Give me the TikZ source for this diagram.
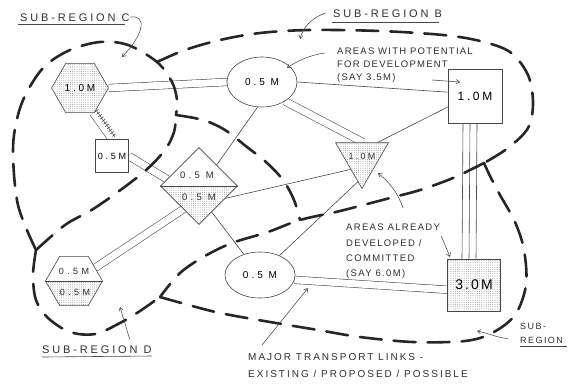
\documentclass[tikz,border=0pt]{standalone}
\usepackage{fontspec}
\setmainfont{Liberation Sans}
\usetikzlibrary{shapes.geometric,patterns.meta,calc,decorations.pathreplacing,arrows.meta,backgrounds}
\newcommand\hf[3]{\fontsize{#1}{#2}\selectfont\addfontfeature{LetterSpace=#3}}
\begin{document}
\begin{tikzpicture}[x=1pt,y=-1pt,
  ink/.style={draw=black!72, line width=0.6pt},
  lnk/.style={ink},
  dbl/.style={draw=black!72, line width=0.55pt, double=white, double distance=7pt},
  dotfill/.style={preaction={fill=white}, pattern={Dots[distance=2.2pt,radius=0.38pt]}, pattern color=black!60},
  halfdots/.style={fill=white, path picture={\fill[pattern={Dots[distance=2.2pt,radius=0.38pt]}, pattern color=black!60] (path picture bounding box.west) rectangle (path picture bounding box.south east);}},
  hexa/.style={ink, regular polygon, regular polygon sides=6, inner sep=0pt, minimum size=57pt},
  box/.style={ink, rectangle, inner sep=0pt, fill=white},
  oval/.style={ink, ellipse, inner sep=0pt, fill=white, minimum width=70pt},
  txt/.style={inner sep=0pt, text=black!82},
  bound/.style={draw=black!85, line width=2.6pt, dash pattern=on 22pt off 12pt, line cap=round},
  ann/.style={draw=black!72, line width=0.55pt, -{Straight Barb[length=3.5pt,width=4.5pt]}},
]
\useasboundingbox (0,0) rectangle (569,386);

% ---------- nodes ----------
\node[hexa, dotfill, font=\hf{10}{12}{28}] (hexC) at (80,88) {1.0M};
\node[box, minimum size=33pt, font=\hf{9}{11}{30}] (sq05) at (112,156) {0.5M};
\node[ink, diamond, aspect=1, minimum width=77pt, minimum height=77pt, inner sep=0pt, halfdots] (dia) at (199,186) {};
\draw[ink] (dia.west) -- (dia.east);
\node[txt, font=\hf{9.5}{11}{35}] (diaT) at (197,175) {0.5 M};
\node[txt, font=\hf{9.5}{11}{35}] (diaB) at (199,197) {0.5 M};
\node[oval, minimum height=50pt, font=\hf{10}{12}{30}] (elTop) at (262,82) {0.5 M};
\node[oval, minimum height=46pt, font=\hf{10}{12}{30}] (elBot) at (260,275) {0.5 M};
\node[box, minimum size=54pt, font=\hf{12}{14}{22}] (sqA) at (475,96) {1.0M};
\node[ink, regular polygon, regular polygon sides=3, shape border rotate=180, minimum size=61pt, inner sep=0pt, dotfill] (tri) at (362,158) {};
\node[txt, font=\hf{9}{11}{25}] (triT) at (362,156) {1.0M};
\node[box, dotfill, minimum width=53pt, minimum height=52pt, font=\hf{14}{16}{15}] (sqE) at (474,285) {3.0M};
\node[hexa, halfdots] (hexD) at (74,281) {};
\draw[ink] (hexD.west) -- (hexD.east);
\node[txt, font=\hf{9}{11}{38}] (hexDt) at (74,271) {0.5M};
\node[txt, font=\hf{9}{11}{38}] (hexDb) at (75,292) {0.5M};

% ---------- transport links ----------
\begin{scope}[on background layer]
\draw[dbl] (hexC.east) -- (elTop.west);
\draw[dbl] (hexC.-62) -- (sq05.north);
\draw[ink, decorate, decoration={ticks, segment length=3pt, amplitude=2.2pt, raise=4pt}] (hexC.-62) -- (sq05.north);
\draw[dbl] (sq05.east) -- (dia.168);
\draw[lnk] (elTop.-100) -- (dia.50);
\draw[lnk] (elTop.east) -- (sqA.172);
\draw[dbl] (elTop.-40) -- (tri.85);
\draw[lnk] (sqA.202) -- (tri.45);
\draw[lnk] (tri.-135) -- (dia.-25);
\draw[lnk] (tri.-100) -- (elBot.45);
\draw[lnk] (dia.-64) -- (elBot.128);
\draw[dbl] (dia.-124) -- (hexD.32);
\draw[dbl] (elBot.-8) -- (sqE.190);
\draw[lnk] ([xshift=-12pt]sqA.south) -- ([xshift=-12pt]sqE.north);
\draw[lnk] ([xshift=-5pt]sqA.south) -- ([xshift=-5pt]sqE.north);
\draw[lnk] ([xshift=2pt]sqA.south) -- ([xshift=2pt]sqE.north);
\end{scope}

% ---------- sub-region boundaries ----------
\coordinate (J1) at (36,250);
\coordinate (J2) at (157,62);
\coordinate (J3) at (176,115);
\coordinate (J4) at (484,163);
\coordinate (J5) at (300,220);
\coordinate (J6) at (160,297);
\draw[bound] plot[smooth, tension=0.55] coordinates {(J1) (18,205) (13,150) (18,115) (28,90) (45,66) (70,50) (100,42) (128,45) (J2) (172,82) (177,100) (J3)};
\draw[bound] plot[smooth, tension=0.55] coordinates {(J1) (65,225) (90,211) (115,194) (145,171) (165,150) (174,132) (J3)};
\draw[bound] plot[smooth, tension=0.55] coordinates {(J2) (185,50) (220,40) (260,33) (310,30) (380,31) (443,35) (480,41) (510,52) (528,75) (533,103) (528,128) (508,148) (J4)};
\draw[bound] plot[smooth, tension=0.55] coordinates {(J4) (453,178) (420,190) (390,198) (340,211) (J5) (268,232) (232,243) (205,256) (180,273) (J6)};
\draw[bound] plot[smooth, tension=0.55] coordinates {(J3) (203,120) (225,130) (247,147) (266,162) (283,180) (294,200) (J5)};
\draw[bound] plot[smooth, tension=0.55] coordinates {(J1) (33,275) (36,300) (48,318) (70,332) (95,334) (120,323) (140,311) (J6)};
\draw[bound] plot[smooth, tension=0.55] coordinates {(J6) (185,304) (220,313) (270,322) (318,330) (360,337) (413,342) (465,341) (492,333) (515,315) (526,285) (524,250) (515,222) (500,195) (490,176) (J4)};

% ---------- labels ----------
\node[txt, anchor=base west, font=\hf{11}{13}{26}] (subC) at (20,21) {SUB-REGION C};
\draw[ink] ($(subC.base west)+(-2,3)$) -- ($(subC.base east)+(-5,3)$);
\node[txt, anchor=base west, font=\hf{11}{13}{26}] (subB) at (333,17) {SUB-REGION B};
\draw[ink] ($(subB.base west)+(-1,5)$) -- ($(subB.base east)+(-3,5)$);
\node[txt, anchor=base west, font=\hf{11}{13}{26}] (subD) at (42,353) {SUB-REGION D};
\draw[ink] ($(subD.base west)+(0,4)$) -- ($(subD.base east)+(0,3)$);
\node[txt, anchor=north west, align=left, font=\hf{9}{14}{16}] (subE) at (520,323) {SUB-\\REGION};
\draw[ink] ($(subE.south west)+(0,3)$) -- ($(subE.south east)+(4,3)$);

\node[txt, anchor=north west, align=left, font=\hf{9.5}{13}{13}] (pot) at (337,48) {AREAS WITH POTENTIAL\\FOR DEVELOPMENT\\(SAY 3.5M)};
\node[txt, anchor=north west, align=left, font=\hf{9.5}{15.3}{14}] (dev) at (346,224) {AREAS ALREADY\\DEVELOPED /\\COMMITTED\\(SAY 6.0M)};
\node[txt, anchor=north west, align=left, font=\hf{10}{17}{20}] (trans) at (248,353) {MAJOR TRANSPORT LINKS -\\EXISTING / PROPOSED / POSSIBLE};

% ---------- annotation arrows ----------
\coordinate (cTip) at (122,57);
\coordinate (bTip) at (300,39);
\coordinate (pTip1) at (287,68);
\coordinate (pTip2) at (460,82);
\coordinate (dTip1) at (378,173);
\coordinate (dTip2) at (450,257);
\coordinate (sdTip) at (120,307);
\coordinate (tTip) at (308,288);
\coordinate (eTip) at (477,331);
\draw[ann] (subC.east) .. controls (146,14) and (146,32) .. (cTip);
\draw[ann] ($(subB.west)+(-8,0)$) .. controls (312,18) and (303,27) .. (bTip);
\draw[ann] ($(pot.north west)+(-12,5)$) .. controls (310,55) and (297,61) .. (pTip1);
\draw[ann] ($(pot.south west)+(95,-3)$) -- (pTip2);
\draw[ann] ($(dev.north west)+(57,-16)$) .. controls (398,193) and (390,183) .. (dTip1);
\draw[ann] ($(dev.north east)+(1,12)$) -- (dTip2);
\draw[ann] ($(subD.north east)+(-22,-6)$) -- (sdTip);
\draw[ann] ($(trans.north west)+(14,-8)$) -- (tTip);
\draw[ann] ($(subE.south west)+(-12,-5)$) .. controls (495,337) and (488,333) .. (eTip);
\end{tikzpicture}
\end{document}
